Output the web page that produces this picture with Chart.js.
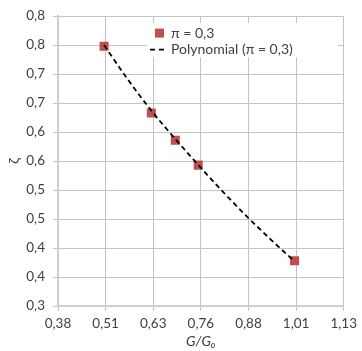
<!DOCTYPE html>
<html>
<head>
<meta charset="utf-8">
<script src="https://cdn.jsdelivr.net/npm/chart.js@4/dist/chart.umd.min.js"></script>
<style>
  html, body { margin: 0; padding: 0; background: #fff; }
  #wrap { position: relative; width: 362px; height: 351px; }
</style>
</head>
<body>
<div id="wrap"><canvas id="c" width="362" height="351"></canvas></div>
<script>
// ---- data ----
const seriesLabel = "π = 0,3";
const trendLabel = "Polynomial (π = 0,3)";
const xValues = [0.501, 0.625, 0.688, 0.748, 1.001];
const yValues = [0.748, 0.633, 0.586, 0.543, 0.378];
const trendX = [0.501, 0.563, 0.625, 0.688, 0.750, 0.813, 0.875, 0.938, 1.001];
const trendY = [0.750, 0.691, 0.637, 0.588, 0.542, 0.497, 0.455, 0.415, 0.377];
const xTickValues = [0.38, 0.505, 0.63, 0.755, 0.88, 1.005, 1.13];
const xTickLabels = ["0,38", "0,51", "0,63", "0,76", "0,88", "1,01", "1,13"];
const yTickValues = [0.3, 0.35, 0.4, 0.45, 0.5, 0.55, 0.6, 0.65, 0.7, 0.75, 0.8];
const yTickLabels = ["0,3", "0,4", "0,4", "0,5", "0,5", "0,6", "0,6", "0,7", "0,7", "0,8", "0,8"];
const xTitle = "G/G₀";
const yTitle = "ζ";

const RED = "#c0504d";
const FONT = "Lato, 'Open Sans', sans-serif";
const TXT = "#404040";

const pointsData = xValues.map((x, i) => ({ x: x, y: yValues[i] }));
const trendData = trendX.map((x, i) => ({ x: x, y: trendY[i] }));

const legendPlugin = {
  id: 'boxLegend',
  afterDraw(chart) {
    const ctx = chart.ctx;
    const a = chart.chartArea;
    const bx = a.left + 89, by = a.top + 7, bw = 191, bh = 34;
    ctx.save();
    ctx.fillStyle = '#ffffff';
    ctx.fillRect(bx, by, bw, bh);
    const r1 = by + 10, r2 = by + 26;
    ctx.fillStyle = RED;
    ctx.fillRect(bx + 8, r1 - 4.5, 9, 9);
    ctx.font = "14px " + FONT;
    ctx.fillStyle = TXT;
    ctx.textBaseline = 'middle';
    ctx.textAlign = 'left';
    ctx.fillText(chart.data.datasets[1].label, bx + 24, r1);
    ctx.strokeStyle = '#000';
    ctx.lineWidth = 1.8;
    ctx.setLineDash([5, 4]);
    ctx.beginPath();
    ctx.moveTo(bx + 3, r2 + 0.5);
    ctx.lineTo(bx + 19, r2 + 0.5);
    ctx.stroke();
    ctx.setLineDash([]);
    ctx.fillText(chart.data.datasets[0].label, bx + 24, r2);
    ctx.restore();
  }
};

new Chart(document.getElementById('c'), {
  type: 'scatter',
  data: {
    datasets: [
      {
        label: trendLabel,
        data: trendData,
        showLine: true,
        borderColor: '#000',
        borderWidth: 1.8,
        borderDash: [5, 3.5],
        pointRadius: 0,
        tension: 0.4,
        cubicInterpolationMode: 'monotone',
        fill: false,
        order: 0
      },
      {
        label: seriesLabel,
        data: pointsData,
        pointStyle: 'rect',
        pointRadius: 6.4,
        pointHoverRadius: 6.4,
        backgroundColor: RED,
        borderColor: RED,
        borderWidth: 0,
        order: 1
      }
    ]
  },
  options: {
    responsive: false,
    animation: false,
    devicePixelRatio: 1,
    layout: { padding: { top: 14, right: 15, left: 0, bottom: 0 } },
    plugins: { legend: { display: false }, tooltip: { enabled: false } },
    scales: {
      x: {
        type: 'linear',
        min: 0.38, max: 1.13,
        afterBuildTicks(s) { s.ticks = xTickValues.map(v => ({ value: v })); },
        afterFit(s) { s.height = 45; },
        ticks: {
          autoSkip: false,
          maxRotation: 0,
          padding: 5,
          color: TXT,
          font: { family: FONT, size: 13.5 },
          callback(v, i) { return xTickLabels[i]; }
        },
        grid: { color: '#c4c4c4', lineWidth: 1, tickLength: 5, tickColor: '#c4c4c4' },
        border: { color: '#cfcfcf', width: 2 },
        title: {
          display: true, text: xTitle, color: TXT,
          font: { family: FONT, size: 14, style: 'italic' },
          padding: { top: 0, bottom: 1 }
        }
      },
      y: {
        type: 'linear',
        min: 0.3, max: 0.8,
        afterBuildTicks(s) { s.ticks = yTickValues.map(v => ({ value: v })); },
        afterFit(s) { s.width = 58; },
        ticks: {
          autoSkip: false,
          padding: 8,
          color: TXT,
          font: { family: FONT, size: 13.5 },
          callback(v, i) { return yTickLabels[i]; }
        },
        grid: { color: '#c4c4c4', lineWidth: 1, tickLength: 5, tickColor: '#c4c4c4' },
        border: { color: '#cfcfcf', width: 2 },
        title: {
          display: true, text: yTitle, color: TXT,
          font: { family: FONT, size: 14 },
          padding: { top: 6, bottom: 0 }
        }
      }
    }
  },
  plugins: [legendPlugin]
});
</script>
</body>
</html>
